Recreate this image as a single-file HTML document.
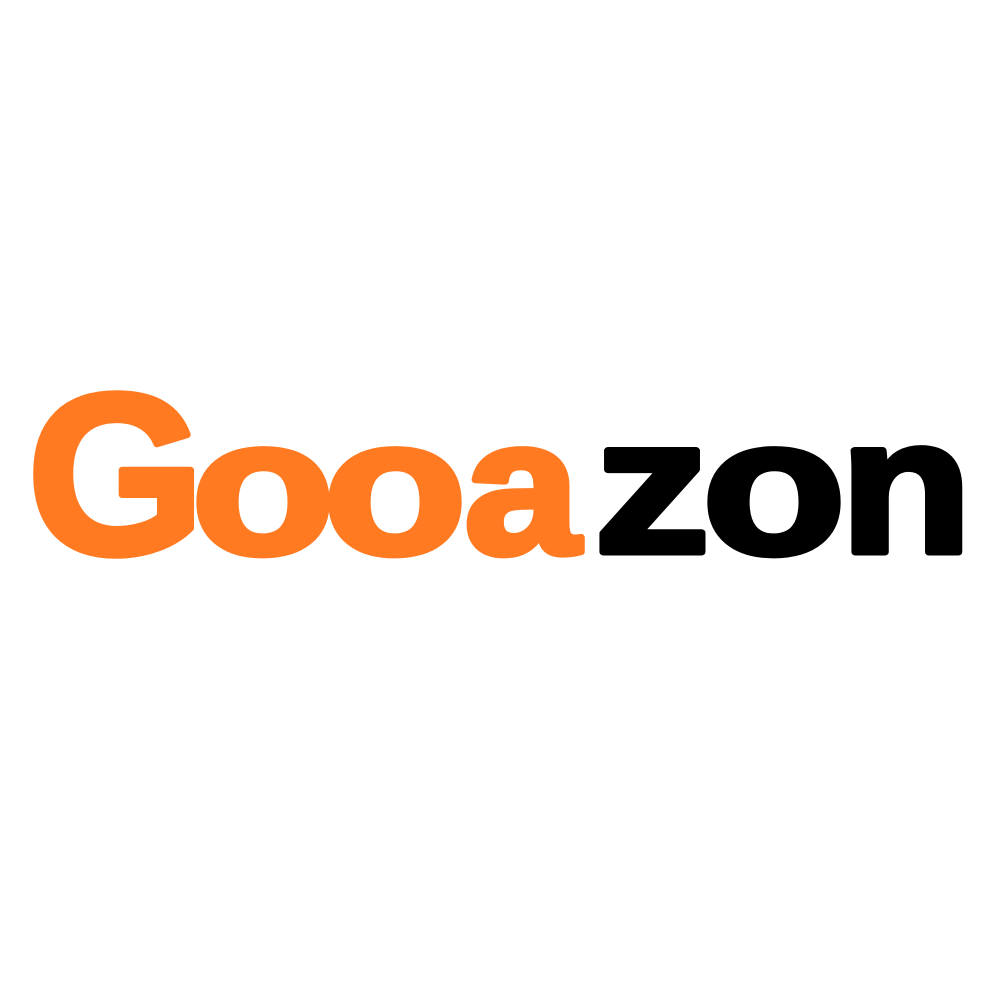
<!DOCTYPE html>
<html>
<head>
<meta charset="utf-8">
<style>
  html, body { margin:0; padding:0; background:#ffffff; }
  body { width:1000px; height:1000px; overflow:hidden; }
  svg { display:block; }
  text { font-family: "Liberation Sans", Arial, sans-serif; font-weight: bold; text-anchor: middle; }
  .or { fill:#FF7A21; stroke:#FF7A21; stroke-width:7; stroke-linejoin:round; }
  .bk { fill:#000000; stroke:#000000; stroke-width:7; stroke-linejoin:round; }
</style>
</head>
<body>
<svg width="1000" height="1000" viewBox="0 0 1000 1000">
  <rect x="0" y="0" width="1000" height="1000" fill="#ffffff"/>
  <g>
    <g transform="translate(116,0) scale(1.0,1)"><text class="or" x="0" y="553" font-size="228">G</text></g>
    <g transform="translate(263,0) scale(1.22,1)"><text class="or" x="0" y="553" font-size="192">o</text></g>
    <g transform="translate(395,0) scale(1.22,1)"><text class="or" x="0" y="553" font-size="192">o</text></g>
    <g transform="translate(522,0) scale(1.08,1)"><text class="or" x="0" y="553" font-size="192">a</text></g>
    <g transform="translate(652,0) scale(1.2,1)"><text class="bk" x="0" y="552" font-size="192">z</text></g>
    <g transform="translate(774,0) scale(1.22,1)"><text class="bk" x="0" y="553" font-size="192">o</text></g>
    <g transform="translate(906,0) scale(1.12,1)"><text class="bk" x="0" y="552" font-size="192">n</text></g>
  </g>
</svg>
</body>
</html>
